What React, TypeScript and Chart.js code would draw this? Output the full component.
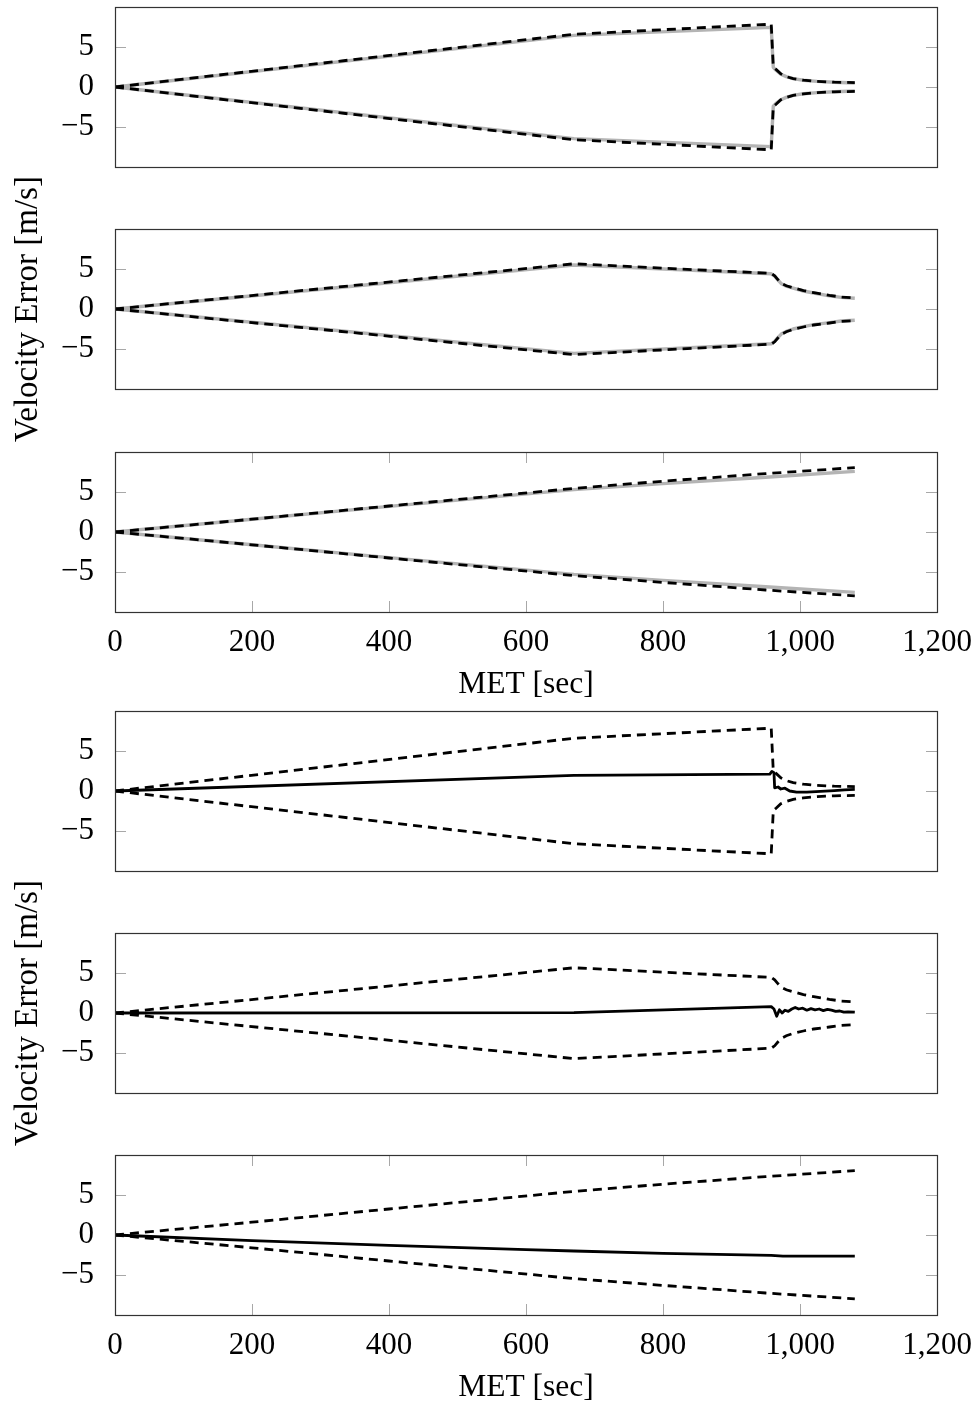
import React, { useEffect, useRef } from "react";
import { Chart, registerables } from "chart.js";

Chart.register(...registerables);

// ---------- Data ----------
// Panel 1 / 4 bounds (MET in seconds, velocity error in m/s)
const B1_T = [0, 670, 958, 961, 965, 972, 980, 990, 1005, 1025, 1050, 1080];
const B1_GRAY_UP = [0, 6.45, 7.45, 2.45, 2.1, 1.6, 1.3, 1.05, 0.85, 0.7, 0.6, 0.5];
const B1_GRAY_LO = [0, -6.45, -7.45, -2.4, -2.05, -1.6, -1.3, -1.05, -0.85, -0.7, -0.6, -0.5];
const B1_DASH_UP = [0, 6.6, 7.85, 2.5, 2.2, 1.65, 1.3, 1.05, 0.85, 0.7, 0.6, 0.55];
const B1_DASH_LO = [0, -6.6, -7.85, -2.45, -2.15, -1.6, -1.3, -1.05, -0.85, -0.7, -0.6, -0.55];

// Panel 2 / 5 bounds
const B2_T = [0, 670, 958, 963, 968, 973, 980, 990, 1005, 1020, 1043, 1060, 1080];
const B2_GRAY_UP = [0, 5.5, 4.4, 4.1, 3.6, 3.15, 2.85, 2.6, 2.25, 2.0, 1.65, 1.45, 1.35];
const B2_GRAY_LO = [0, -5.55, -4.35, -4.05, -3.55, -3.1, -2.8, -2.5, -2.2, -1.95, -1.7, -1.5, -1.4];
const B2_DASH_UP = [0, 5.65, 4.45, 4.15, 3.65, 3.2, 2.9, 2.65, 2.3, 2.05, 1.7, 1.5, 1.4];
const B2_DASH_LO = [0, -5.7, -4.4, -4.1, -3.6, -3.15, -2.85, -2.55, -2.25, -2.0, -1.75, -1.55, -1.45];

// Panel 3 / 6 bounds
const B3_T = [0, 200, 400, 670, 800, 950, 1080];
const B3_GRAY_UP = [0, 1.6, 3.2, 5.3, 6.05, 6.85, 7.58];
const B3_GRAY_LO = [0, -1.6, -3.2, -5.3, -6.05, -6.85, -7.55];
const B3_DASH_UP = [0, 1.6, 3.25, 5.45, 6.35, 7.3, 8.05];
const B3_DASH_LO = [0, -1.6, -3.25, -5.45, -6.3, -7.25, -7.98];

// Estimation errors (panels 4-6)
const E4_T = [0, 670, 956, 959, 962, 963, 968, 972, 978, 985, 995, 1010, 1030, 1050, 1065, 1080];
const E4_V = [0, 1.95, 2.1, 2.45, 2.3, 0.4, 0.5, 0.25, 0.35, 0.0, -0.15, -0.15, -0.05, 0.05, 0.15, 0.2];

const E5_T = [0, 670, 958, 962, 966, 970, 974, 978, 983, 988, 993, 998, 1004, 1010, 1016, 1022, 1028, 1034, 1040, 1046, 1052, 1058, 1064, 1070, 1080];
const E5_V = [0, 0.05, 0.8, 0.5, -0.4, 0.4, 0.0, 0.35, 0.2, 0.5, 0.7, 0.5, 0.6, 0.35, 0.55, 0.4, 0.5, 0.3, 0.45, 0.35, 0.2, 0.25, 0.1, 0.15, 0.1];

const E6_T = [0, 200, 400, 600, 670, 800, 958, 975, 1080];
const E6_V = [0, -0.7, -1.3, -1.83, -2.0, -2.3, -2.55, -2.65, -2.65];

// Axes
const X_MIN = 0;
const X_MAX = 1200;
const X_STEP = 200;
const X_TICK_MARKS = [200, 400, 600, 800, 1000];
const Y_MIN = -10;
const Y_MAX = 10;
const Y_TICK_VALUES = [-5, 0, 5];
const X_TITLE = "MET [sec]";
const Y_TITLE = "Velocity Error [m/s]";

// ---------- Styling ----------
const FONT = "'Liberation Serif', 'Times New Roman', Times, serif";
const FS = 31;
const FS_XTITLE = 31.5;
const FS_YTITLE = 33;
const W = 978;
const PLOT_LEFT = 115;
const PLOT_RIGHT = 937;
const PLOT_H = 160;
const GRAY = "#b4b4b4";
const DASH = [9, 6];

const toXY = (t: number[], v: number[]) => t.map((x, i) => ({ x, y: v[i] }));

type PanelCfg = {
  top: number;
  padTop: number;
  padBottom: number;
  hasX: boolean;
  hasYTitle: boolean;
  kind: "bounds" | "error";
  b: number;
  err?: { t: number[]; v: number[] };
};

const BOUNDS = [
  { t: B1_T, gu: B1_GRAY_UP, gl: B1_GRAY_LO, du: B1_DASH_UP, dl: B1_DASH_LO },
  { t: B2_T, gu: B2_GRAY_UP, gl: B2_GRAY_LO, du: B2_DASH_UP, dl: B2_DASH_LO },
  { t: B3_T, gu: B3_GRAY_UP, gl: B3_GRAY_LO, du: B3_DASH_UP, dl: B3_DASH_LO },
];

const PANELS: PanelCfg[] = [
  { top: 7, padTop: 40, padBottom: 40, hasX: false, hasYTitle: false, kind: "bounds", b: 0 },
  { top: 229, padTop: 80, padBottom: 80, hasX: false, hasYTitle: true, kind: "bounds", b: 1 },
  { top: 452, padTop: 40, padBottom: 6, hasX: true, hasYTitle: false, kind: "bounds", b: 2 },
  { top: 711, padTop: 40, padBottom: 40, hasX: false, hasYTitle: false, kind: "error", b: 0, err: { t: E4_T, v: E4_V } },
  { top: 933, padTop: 80, padBottom: 80, hasX: false, hasYTitle: true, kind: "error", b: 1, err: { t: E5_T, v: E5_V } },
  { top: 1155, padTop: 40, padBottom: 6, hasX: true, hasYTitle: false, kind: "error", b: 2, err: { t: E6_T, v: E6_V } },
];

const X_AXIS_H = 92;

const framePlugin = {
  id: "frame",
  beforeDatasetsDraw(chart: any, _args: any, opts: any) {
    const { ctx, chartArea: a, scales } = chart;
    ctx.save();
    ctx.strokeStyle = "#a8a8a8";
    ctx.lineWidth = 1;
    ctx.beginPath();
    for (const v of Y_TICK_VALUES) {
      const y = Math.round(scales.y.getPixelForValue(v)) + 0.5;
      ctx.moveTo(a.left, y);
      ctx.lineTo(a.left + 11, y);
      ctx.moveTo(a.right, y);
      ctx.lineTo(a.right - 11, y);
    }
    if (opts && opts.xTicks) {
      for (const v of X_TICK_MARKS) {
        const x = Math.round(scales.x.getPixelForValue(v)) + 0.5;
        ctx.moveTo(x, a.top);
        ctx.lineTo(x, a.top + 11);
        ctx.moveTo(x, a.bottom);
        ctx.lineTo(x, a.bottom - 11);
      }
    }
    ctx.stroke();
    ctx.restore();
  },
  afterDraw(chart: any) {
    const { ctx, chartArea: a } = chart;
    ctx.save();
    ctx.strokeStyle = "#333333";
    ctx.lineWidth = 1.2;
    ctx.strokeRect(Math.round(a.left) + 0.5, Math.round(a.top) + 0.5, Math.round(a.right - a.left), Math.round(a.bottom - a.top));
    ctx.restore();
  },
};

function Panel({ cfg }: { cfg: PanelCfg }) {
  const ref = useRef<HTMLCanvasElement | null>(null);
  const canvasH = cfg.padTop + PLOT_H + (cfg.hasX ? X_AXIS_H : 0) + cfg.padBottom;

  useEffect(() => {
    if (!ref.current) return;
    const bd = BOUNDS[cfg.b];
    const dashStyle = {
      borderColor: "#000",
      borderWidth: 2.8,
      borderDash: DASH,
      pointRadius: 0,
      fill: false,
      tension: 0,
      borderCapStyle: "butt",
      borderJoinStyle: "miter",
    };
    const grayStyle = {
      borderColor: GRAY,
      borderWidth: 3.4,
      pointRadius: 0,
      fill: false,
      tension: 0,
      borderJoinStyle: "round",
    };
    const datasets: any[] = [];
    if (cfg.kind === "error" && cfg.err) {
      datasets.push({
        label: "error",
        data: toXY(cfg.err.t, cfg.err.v),
        borderColor: "#000",
        borderWidth: 2.8,
        pointRadius: 0,
        fill: false,
        tension: 0,
        borderJoinStyle: "round",
      });
    }
    datasets.push({ label: "dash up", data: toXY(bd.t, bd.du), ...dashStyle });
    datasets.push({ label: "dash lo", data: toXY(bd.t, bd.dl), ...dashStyle });
    if (cfg.kind === "bounds") {
      datasets.push({ label: "gray up", data: toXY(bd.t, bd.gu), ...grayStyle });
      datasets.push({ label: "gray lo", data: toXY(bd.t, bd.gl), ...grayStyle });
    }

    const font = { family: FONT, size: FS };
    const chart = new Chart(ref.current, {
      type: "line",
      data: { datasets },
      plugins: [framePlugin],
      options: {
        responsive: false,
        maintainAspectRatio: false,
        devicePixelRatio: 1,
        animation: false,
        layout: {
          padding: { left: 0, right: W - PLOT_RIGHT, top: cfg.padTop, bottom: cfg.padBottom },
        },
        plugins: {
          legend: { display: false },
          tooltip: { enabled: false },
          frame: { xTicks: cfg.hasX },
        } as any,
        scales: {
          x: {
            type: "linear",
            min: X_MIN,
            max: X_MAX,
            display: cfg.hasX,
            grid: { display: false },
            border: { display: false },
            ticks: {
              stepSize: X_STEP,
              autoSkip: false,
              maxRotation: 0,
              padding: 4,
              color: "#000",
              font,
              callback: (v: any) => Number(v).toLocaleString("en-US"),
            },
            title: {
              display: cfg.hasX,
              text: X_TITLE,
              color: "#000",
              font: { family: FONT, size: FS_XTITLE },
              padding: { top: 0, bottom: 0 },
            },
            afterFit: (s: any) => {
              s.height = cfg.hasX ? X_AXIS_H : 0;
            },
          },
          y: {
            type: "linear",
            min: Y_MIN,
            max: Y_MAX,
            grid: { display: false },
            border: { display: false },
            ticks: {
              stepSize: 5,
              padding: 13,
              color: "#000",
              font,
              callback: (v: any) => {
                const n = Number(v);
                if (!Y_TICK_VALUES.includes(n)) return null;
                return n < 0 ? "\u2212" + Math.abs(n) : String(n);
              },
            },
            title: {
              display: cfg.hasYTitle,
              text: Y_TITLE,
              color: "#000",
              font: { family: FONT, size: FS_YTITLE },
              padding: { top: 9, bottom: 0 },
            },
            afterFit: (s: any) => {
              s.width = PLOT_LEFT;
            },
          },
        },
      } as any,
    });
    return () => chart.destroy();
  }, [cfg]);

  return (
    <canvas
      ref={ref}
      width={W}
      height={canvasH}
      style={{
        position: "absolute",
        left: 0,
        top: cfg.top - cfg.padTop,
        width: W,
        height: canvasH,
        display: "block",
      }}
    />
  );
}

export default function App() {
  return (
    <div
      style={{
        position: "fixed",
        left: 0,
        top: 0,
        width: W,
        height: 1405,
        overflow: "hidden",
        background: "#fff",
      }}
    >
      {PANELS.map((p, i) => (
        <Panel key={i} cfg={p} />
      ))}
    </div>
  );
}
